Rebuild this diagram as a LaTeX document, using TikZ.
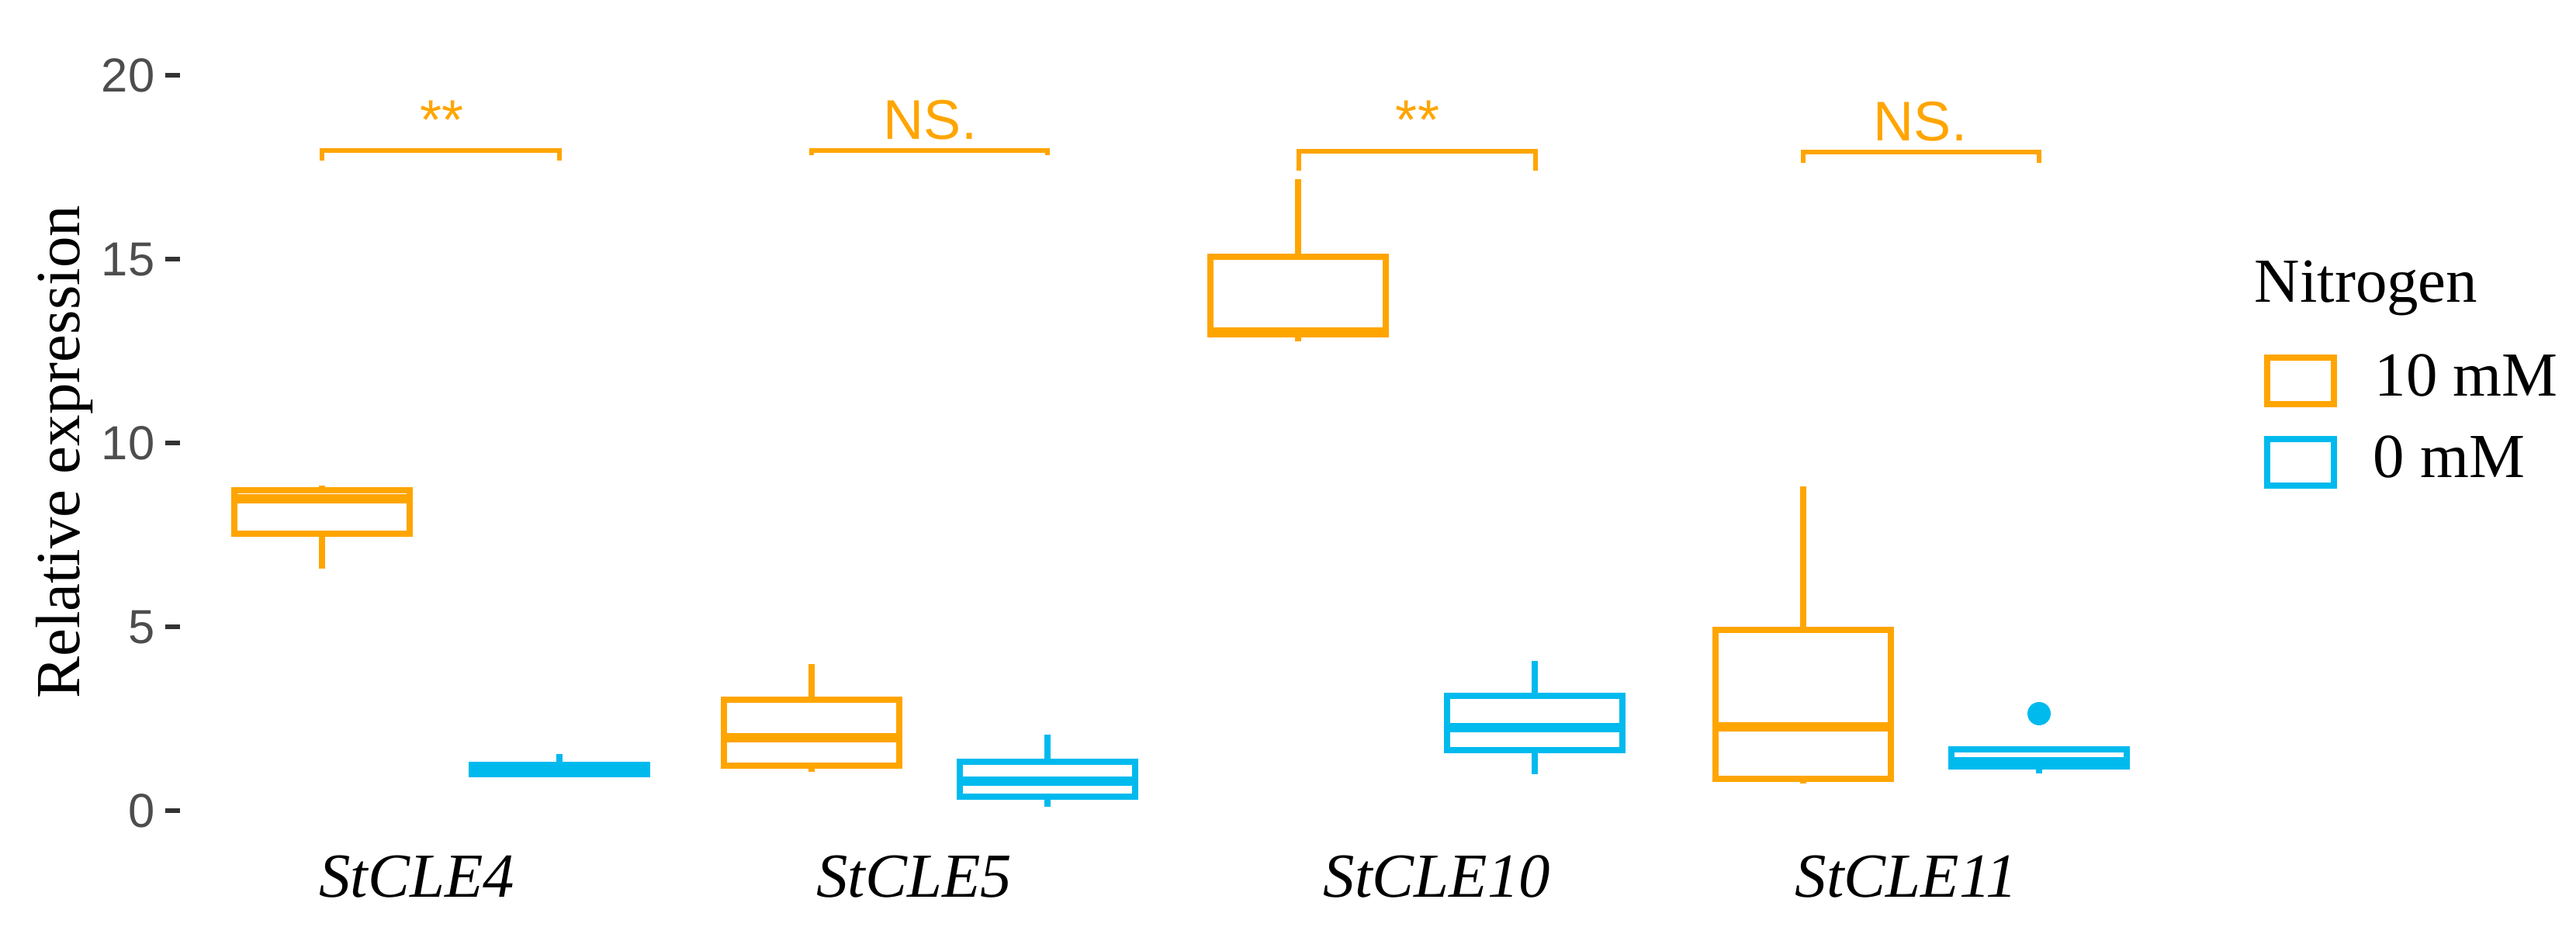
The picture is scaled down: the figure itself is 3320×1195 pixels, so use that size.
\documentclass[tikz,border=0pt]{standalone}
\usepackage{fontspec}
\setmainfont{Liberation Serif}
\newfontfamily\arialf{Liberation Sans}
\definecolor{orng}{HTML}{FFA500}
\definecolor{skyb}{HTML}{00BAEE}
\definecolor{ticklab}{HTML}{4D4D4D}
\definecolor{tickmk}{HTML}{333333}
\newcommand\bxp[7]{%
  \draw[#1,boxln] ({#2-113},#4) rectangle ({#2+113},#6);
  \draw[#1,boxln] (#2,#4) -- (#2,#3);
  \draw[#1,boxln] (#2,#6) -- (#2,#7);
  \draw[#1,medln] ({#2-113},#5) -- ({#2+113},#5);
}
\tikzset{
  boxln/.style={line width=2.1pt},
  medln/.style={line width=3.4pt},
  brk/.style={orng,line width=1.7pt},
  sig/.style={orng,anchor=base,inner sep=0pt,font=\arialf\fontsize{20.5pt}{24pt}\selectfont},
  tlab/.style={ticklab,anchor=base east,inner sep=0pt,font=\arialf\fontsize{17.5pt}{21pt}\selectfont},
  tmark/.style={tickmk,line width=1.8pt},
  serif/.style={inner sep=0pt,font=\fontsize{23pt}{27pt}\selectfont},
  xlab/.style={serif,anchor=base,font=\fontsize{23pt}{27pt}\selectfont\itshape},
}
\begin{document}
\begin{tikzpicture}[x=0.01cm,y=-0.01cm,line cap=butt]
\useasboundingbox (0,0) rectangle (3320,1195);
% y axis label
\node[serif,rotate=90,anchor=base] (ylab) at (102,583) {Relative expression};
% y ticks
\foreach \v/\yy in {0/1045,5/808,10/571,15/334,20/97}{
  \draw[tmark] (213,\yy) -- (232,\yy);
  \node[tlab] (t\v) at (200,\yy+22) {\v};
}
% boxes: color, cx, whisker top, Q3, median, Q1, whisker bottom
\bxp{orng}{415}{626}{632}{643}{688}{733}
\bxp{skyb}{721}{972}{986}{995}{998}{998}
\bxp{orng}{1046}{856}{902}{951}{987}{995}
\bxp{skyb}{1350}{947}{982}{1007}{1027}{1040}
\bxp{orng}{1673}{231}{331}{428}{431}{440}
\bxp{skyb}{1978}{852}{897}{938}{967}{998}
\bxp{orng}{2324}{627}{812}{937}{1004}{1010}
\bxp{skyb}{2628}{966}{966}{982}{988}{997}
\fill[skyb] (2628,920) circle[radius=15];
% brackets
\draw[brk] (415,207) -- (415,194) -- (721,194) -- (721,207);
\draw[brk] (1046,200) -- (1046,194) -- (1350,194) -- (1350,200);
\draw[brk] (1674,220) -- (1674,195) -- (1979,195) -- (1979,220);
\draw[brk] (2324,210) -- (2324,196) -- (2628,196) -- (2628,210);
\node[sig] (s1) at (570,180) {**};
\node[sig] (s2) at (1199,180) {NS.};
\node[sig] (s3) at (1827,180) {**};
\node[sig] (s4) at (2475,182) {NS.};
% x labels
\node[xlab] (x1) at (537,1157) {StCLE4};
\node[xlab] (x2) at (1178,1157) {StCLE5};
\node[xlab] (x3) at (1852,1157) {StCLE10};
\node[xlab] (x4) at (2457,1157) {StCLE11};
% legend
\node[serif,anchor=base west] (lt) at (2905,390) {Nitrogen};
\draw[orng,boxln] (2922,461) rectangle (3008,521);
\draw[skyb,boxln] (2922,566) rectangle (3008,626);
\node[serif,anchor=base west] (l1) at (3060,511) {10 mM};
\node[serif,anchor=base west] (l2) at (3058,616) {0 mM};
\end{tikzpicture}
\end{document}
